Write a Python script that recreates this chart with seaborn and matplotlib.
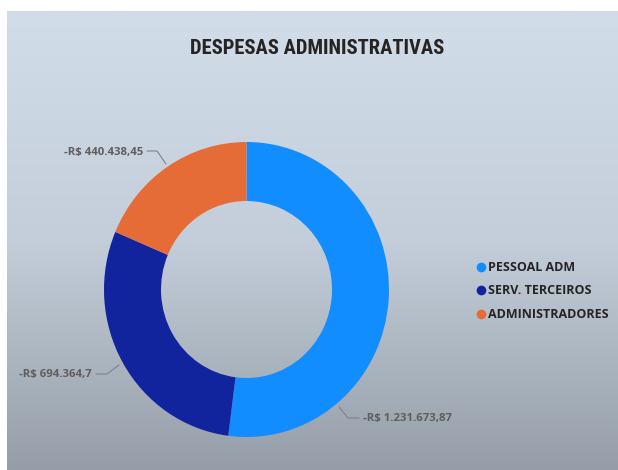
import numpy as np
import matplotlib.pyplot as plt
import seaborn as sns
from matplotlib.lines import Line2D
from matplotlib.colors import LinearSegmentedColormap

# dados do gráfico
categorias = ['PESSOAL ADM', 'SERV. TERCEIROS', 'ADMINISTRADORES']
valores = [1231673.87, 694364.70, 440438.45]
rotulos = ['-R$ 1.231.673,87', '-R$ 694.364,7', '-R$ 440.438,45']
cores = ['#118DFF', '#12239E', '#E66C37']

W, H = 618, 470

sns.set_theme(style="white")
plt.rcParams['font.family'] = ['Open Sans', 'DejaVu Sans']

fig = plt.figure(figsize=(W / 100, H / 100), dpi=100)
fig.patch.set_facecolor('white')

# fundo em degradê
bg = fig.add_axes([7 / W, 0, 1 - 7 / W, 1 - 11 / H])
grad = np.linspace(0, 1, 256).reshape(-1, 1)
cmap = LinearSegmentedColormap.from_list('fundo', ['#d1dde8', '#c3ceda', '#959ea8'])
bg.imshow(grad, aspect='auto', cmap=cmap, extent=[0, 1, 0, 1])
bg.axis('off')

# rosca (levemente achatada na horizontal, como no original)
ax = fig.add_axes([0, 0, 1, 1])
ax.patch.set_alpha(0)
px_cx, px_cy = 246.5, 289.5
r = 147.5
k = r / 142.5  # unidades de x por pixel
sns.set_palette(cores)
ax.pie(valores, colors=sns.color_palette(), startangle=90, counterclock=False,
       center=(0, 0), radius=r,
       wedgeprops=dict(width=r * 0.40, edgecolor='none'))
ax.set_aspect('auto')
ax.set_xlim(-px_cx * k, (W - px_cx) * k)
ax.set_ylim(-(H - px_cy), px_cy)
ax.axis('off')


def fpos(x, y):
    return x / W, 1 - y / H


# rótulos com linhas de chamada (posições em pixels, y a partir do topo)
chamadas = [
    ([(339, 407), (348, 418), (359, 418)], (363, 419), 'left'),
    ([(119, 365), (107, 374), (96, 374)], (92, 374), 'right'),
    ([(166, 164), (157, 151), (147, 151)], (143, 152), 'right'),
]
for txt, (pts, pos, ha) in zip(rotulos, chamadas):
    xs = [p[0] / W for p in pts]
    ys = [1 - p[1] / H for p in pts]
    fig.add_artist(Line2D(xs, ys, color='#7d838a', lw=0.8, transform=fig.transFigure))
    fig.text(*fpos(*pos), txt, ha=ha, va='center', fontsize=8.2,
             fontweight='bold', color='#605e5c')

# título
fig.text(*fpos(317.5, 49), 'DESPESAS ADMINISTRATIVAS', ha='center', va='center',
         fontsize=14.8, fontweight='bold', color='#252423',
         family=['Liberation Sans Narrow', 'Roboto Condensed', 'Roboto'])

# legenda
handles = [Line2D([], [], marker='o', ls='none', markersize=7, color=c,
                  markeredgewidth=0) for c in cores]
leg = fig.legend(handles, categorias, loc='center left',
                 bbox_to_anchor=(466 / W, 1 - 291 / H), frameon=False,
                 handlelength=0.6, handletextpad=0.3, labelspacing=0.85,
                 prop=dict(size=9, weight='bold'))
for t in leg.get_texts():
    t.set_color('#252423')

fig.savefig('out.png', dpi=100)
